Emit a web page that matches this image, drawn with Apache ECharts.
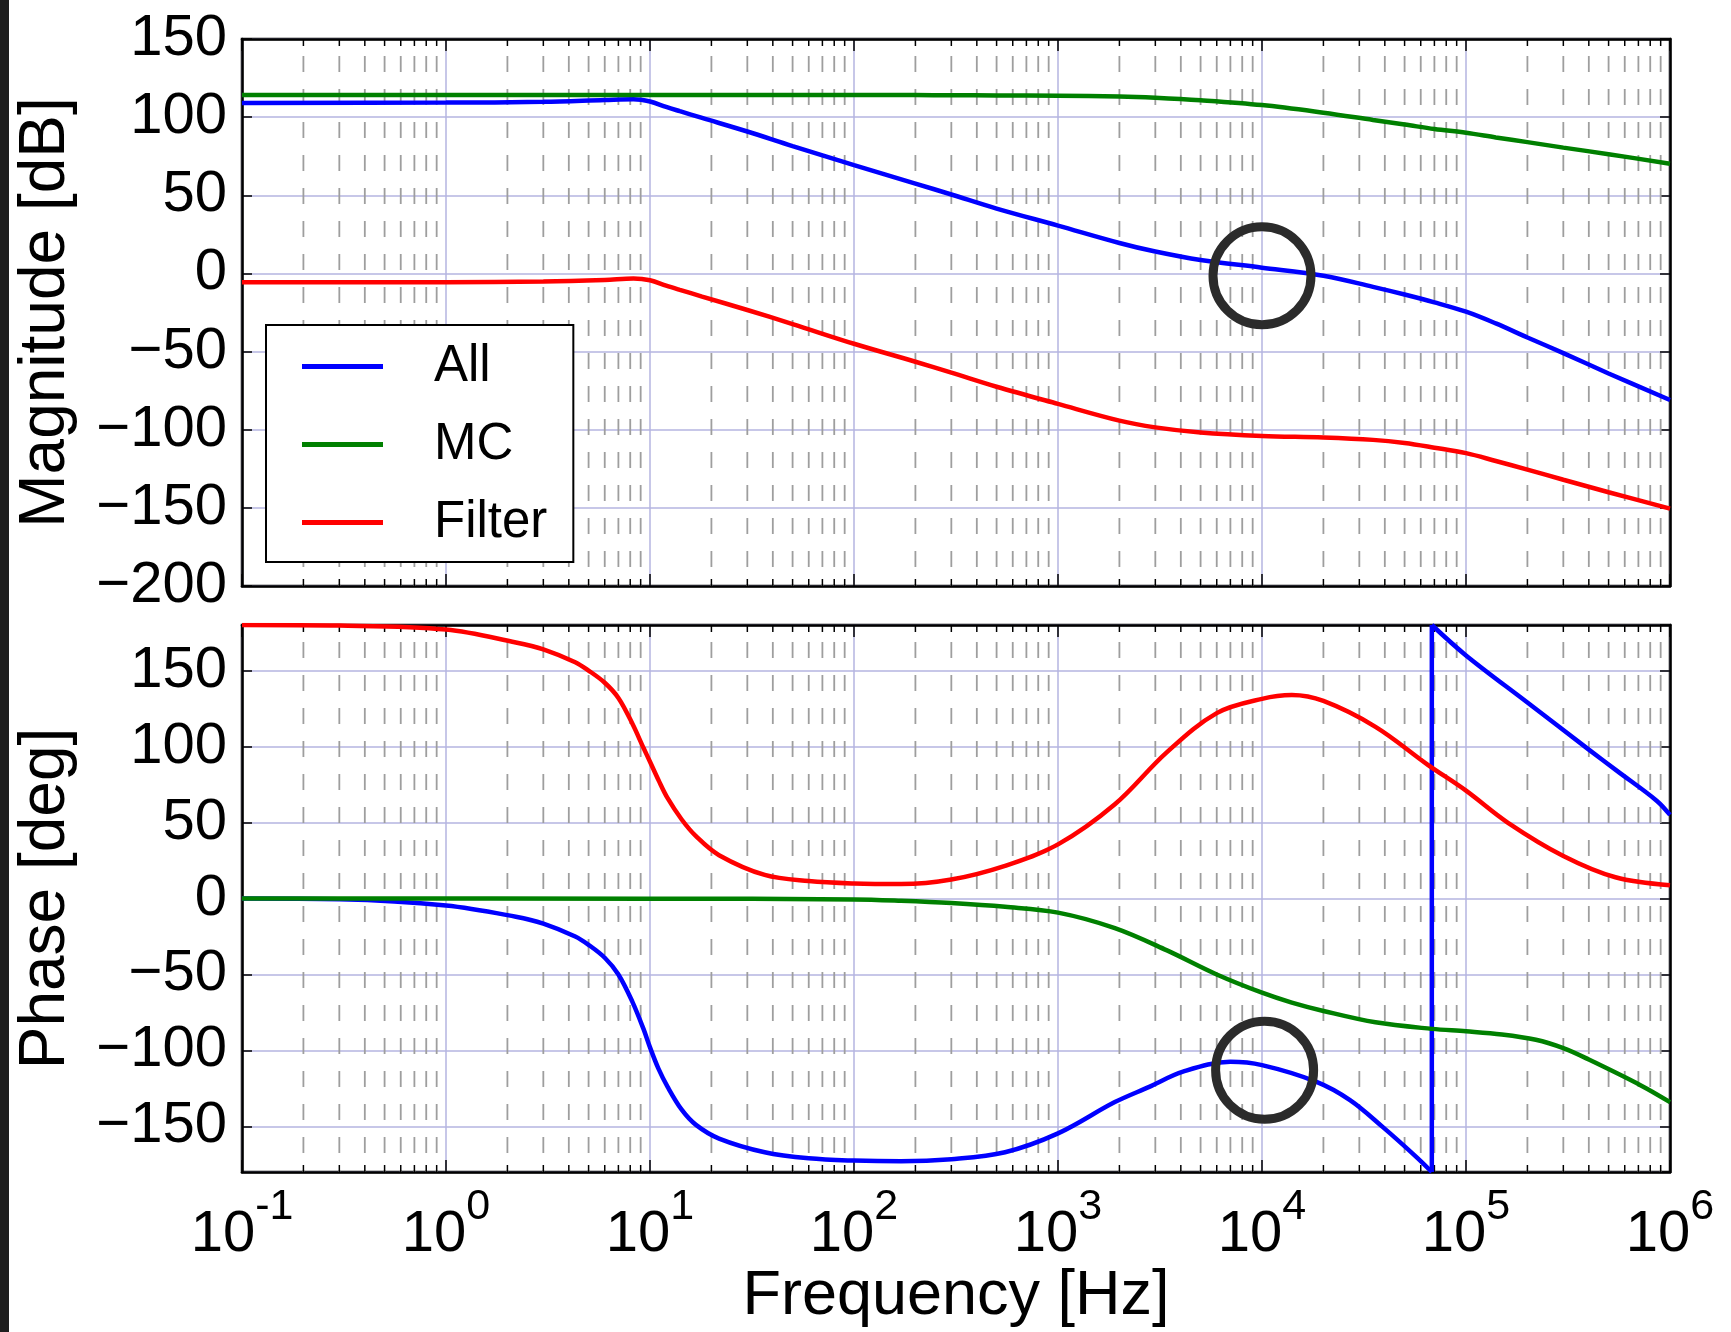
<!DOCTYPE html>
<html>
<head>
<meta charset="utf-8">
<script src="https://cdn.jsdelivr.net/npm/echarts@6/dist/echarts.min.js"></script>
<style>
  html, body { margin: 0; padding: 0; background: #fff; }
  #chart { width: 1731px; height: 1332px; }
</style>
</head>
<body>
<div id="chart"></div>
<script>
// magnitude (dB)
var magFreq   = [0.1, 1, 3, 6, 8.3, 10, 12, 14, 18, 30, 50, 100, 200, 300, 500, 1e3, 2e3, 3e3, 5e3, 1e4, 2e4, 3.5e4, 5e4, 7e4, 1e5, 1.4e5, 2e5, 3e5, 5e5, 1e6];
var magAll    = [109.0, 109.3, 109.8, 111.0, 111.5, 110.0, 106.5, 103.8, 99.5, 90.8, 81.5, 69.3, 57.5, 50.5, 41.5, 30.6, 19.5, 14.0, 8.6, 3.7, -1.5, -8.6, -13.5, -18.5, -24.5, -32.0, -41.0, -51.0, -64.0, -81.0];
var magMC     = [114.2, 114.2, 114.2, 114.2, 114.2, 114.2, 114.2, 114.2, 114.2, 114.2, 114.2, 114.2, 114.1, 114.0, 113.9, 113.7, 113.2, 112.4, 110.8, 107.7, 102.8, 98.2, 95.3, 92.4, 90.0, 87.0, 84.0, 80.5, 76.3, 70.2];
var magFilter = [-5.7, -5.6, -5.2, -4.2, -3.3, -4.4, -7.8, -10.5, -14.8, -23.4, -32.4, -45.0, -56.5, -63.5, -72.5, -83.5, -94.2, -98.5, -101.8, -104.0, -105.0, -106.5, -108.5, -111.5, -115.0, -120.0, -125.5, -132.0, -140.0, -150.5];

// phase (deg)
var phaseFilterFreq = [0.1, 0.3, 1, 2.2, 3, 4.3, 5, 6, 7, 8.2, 9.3, 10, 11, 12.2, 14.3, 16.8, 21.8, 36.5, 60, 100, 170, 300, 550, 1e3, 1.9e3, 3.4e3, 6e3, 1e4, 1.4e4, 2e4, 3.6e4, 6.5e4, 1e5, 1.6e5, 3e5, 5.4e5, 1e6];
var phaseFilter     = [180, 179.6, 177, 168.5, 164, 155.5, 150, 142, 132, 115, 99, 90, 78, 66, 52, 41, 28.5, 15.5, 11.5, 9.9, 9.5, 12.5, 21.5, 35.6, 62, 96, 122, 131.4, 133.9, 130, 113, 88, 71, 50, 28, 14, 8.7];
var phaseMCFreq = [0.1, 10, 100, 170, 300, 550, 1e3, 1.9e3, 3.4e3, 6e3, 1e4, 1.4e4, 2e4, 3.6e4, 6.8e4, 1e5, 1.5e5, 2.2e5, 3e5, 4e5, 7.2e5, 1e6];
var phaseMC     = [0, -0.1, -0.6, -1.5, -3, -5.5, -9.3, -19.5, -34, -50, -62, -68.5, -74, -81.5, -85.8, -87.4, -89.5, -93, -98.5, -106, -123, -134];
// "All" phase: before the wrap, the wrap itself, after the wrap
var phaseAllFreqA = [0.1, 0.3, 1, 2.2, 3, 4.3, 5, 6, 7, 8.2, 9.3, 10, 11, 12.2, 14.3, 16.8, 21.8, 36.5, 60, 100, 170, 300, 550, 1e3, 1.9e3, 2.8e3, 4.1e3, 7e3, 1e4, 1.85e4, 2.7e4, 3.9e4, 5.7e4, 6.8e4];
var phaseAllA     = [0, -0.5, -4.6, -12, -16.5, -25, -30.5, -39, -50, -68, -86, -98, -112, -124, -139, -149, -158, -167, -171, -172.5, -173, -171.6, -167, -154.6, -134, -124, -114, -107.5, -109.7, -120.7, -132.7, -150.3, -170, -180];
var phaseWrapFreq = [6.8e4, 6.8e4];
var phaseWrap     = [-180, 180];
var phaseAllFreqC = [6.8e4, 1e5, 2e5, 4e5, 5.5e5, 8.6e5, 1e6];
var phaseAllC     = [180, 160, 129, 98, 84, 64.4, 55];

// annotation circles
var circleMag = [[1e4, -1.5]];
var circlePhase = [[1.03e4, -113]];

// minor tick positions
var decades = [0.1, 1, 10, 100, 1e3, 1e4, 1e5];
var minorSteps = [2, 3, 4, 5, 6, 7, 8, 9];
var minorFreqs = [];
decades.forEach(function (d) {
  minorSteps.forEach(function (m) { minorFreqs.push([d * m, 0]); });
});

var FONT = "'Liberation Sans', Arial, Helvetica, sans-serif";
var gridColor = '#b4b4e0';
var BLUE = '#0000ff', GREEN = '#008000', RED = '#ff0000';

function pairs(xs, ys) {
  var out = [];
  for (var i = 0; i < xs.length; i++) out.push([xs[i], ys[i]]);
  return out;
}

function xAxisFor(grid, pos, labels, split) {
  return {
    type: 'log', logBase: 10, gridIndex: grid, position: pos,
    min: 0.1, max: 1e6,
    axisLine: { show: true, onZero: false, lineStyle: { color: '#000', width: 2.5 } },
    axisTick: { show: true, inside: true, length: 12, lineStyle: { color: '#000', width: 1.5 } },
    axisLabel: labels ? {
      margin: 34,
      formatter: function (v) {
        var e = Math.round(Math.log10(v));
        return '{b|10}{s|' + e + '}';
      },
      rich: {
        b: { fontSize: 58, fontFamily: FONT, color: '#000', lineHeight: 58, verticalAlign: 'bottom' },
        s: { fontSize: 43, fontFamily: FONT, color: '#000', lineHeight: 43, verticalAlign: 'bottom', padding: [0, 0, 35, 0] }
      }
    } : { show: false },
    splitLine: { show: split, lineStyle: { color: gridColor, width: 1.5 } },
    name: (labels ? 'Frequency [Hz]' : ''),
    nameLocation: 'middle', nameGap: 92,
    nameTextStyle: { fontSize: 63, fontFamily: FONT, color: '#000' }
  };
}

function yAxisFor(grid, pos, main, name, range) {
  var ax = {
    type: 'value', gridIndex: grid, position: pos,
    min: range.min, max: range.max,
    axisLine: { show: true, onZero: false, lineStyle: { color: '#000', width: 2.5 } },
    axisTick: { show: true, inside: true, length: 10, lineStyle: { color: '#000', width: 1.5 } },
    axisLabel: main ? {
      fontSize: 58, fontFamily: FONT, color: '#000', margin: 15,
      showMinLabel: range.edgeLabels, showMaxLabel: range.edgeLabels,
      formatter: function (v) { return String(v).replace('-', '\u2212'); }
    } : { show: false },
    splitLine: { show: main, lineStyle: { color: gridColor, width: 1.5 } }
  };
  if (range.interval) ax.interval = range.interval; else ax.splitNumber = range.splitNumber;
  if (main) {
    ax.name = name;
    ax.nameLocation = 'middle';
    ax.nameGap = 164;
    ax.nameTextStyle = { fontSize: 64, fontFamily: FONT, color: '#000' };
  }
  return ax;
}

var magRange = { min: -200, max: 150, interval: 50, edgeLabels: true };
var phaseRange = { min: -180, max: 180, splitNumber: 7, edgeLabels: false };

function minorSeries(xi, yi) {
  return {
    type: 'custom', xAxisIndex: xi, yAxisIndex: yi, z: 1, silent: true,
    data: minorFreqs, encode: { x: 0, y: 1 },
    renderItem: function (params, api) {
      var x = api.coord([api.value(0), 0])[0];
      var cs = params.coordSys;
      var top = cs.y, bot = cs.y + cs.height;
      return {
        type: 'group',
        children: [
          { type: 'line', shape: { x1: x, y1: top, x2: x, y2: bot },
            style: { stroke: '#9e9e9e', lineWidth: 1.8, lineDash: [16, 17], lineDashOffset: 16 } },
          { type: 'line', shape: { x1: x, y1: top, x2: x, y2: top + 7 },
            style: { stroke: '#000', lineWidth: 1.5 } },
          { type: 'line', shape: { x1: x, y1: bot - 7, x2: x, y2: bot },
            style: { stroke: '#000', lineWidth: 1.5 } }
        ]
      };
    }
  };
}

function curve(name, color, xi, yi, data, smooth) {
  return {
    name: name, type: 'line', xAxisIndex: xi, yAxisIndex: yi, z: 3,
    data: data, showSymbol: false, symbol: 'none',
    smooth: smooth ? 0.35 : false,
    color: color,
    lineStyle: { color: color, width: 4.5 }
  };
}

function circle(xi, yi, data) {
  return {
    type: 'scatter', xAxisIndex: xi, yAxisIndex: yi, z: 5, silent: true,
    data: data, symbol: 'circle', symbolSize: 98,
    itemStyle: { color: 'rgba(0,0,0,0)', borderColor: '#2b2b2b', borderWidth: 9, opacity: 1 }
  };
}

var chart = echarts.init(document.getElementById('chart'));
chart.setOption({
  animation: false,
  backgroundColor: '#fff',
  graphic: [{
    type: 'rect', left: 0, top: 0, z: 10,
    shape: { width: 9, height: 1332 },
    style: { fill: '#1e1e1e' }
  }],
  grid: [
    { left: 242, top: 39, width: 1428, height: 547, show: true, backgroundColor: '#fff', borderColor: '#000', borderWidth: 2.5 },
    { left: 242, top: 625, width: 1428, height: 547, show: true, backgroundColor: '#fff', borderColor: '#000', borderWidth: 2.5 }
  ],
  legend: {
    data: ['All', 'MC', 'Filter'],
    orient: 'vertical', left: 266, top: 325,
    padding: [16, 26, 14, 36],
    itemWidth: 81, itemHeight: 5, itemGap: 27,
    icon: 'rect',
    backgroundColor: '#fff', borderColor: '#000', borderWidth: 2, borderRadius: 0,
    selectedMode: false,
    textStyle: { fontSize: 51, fontFamily: FONT, color: '#000', lineHeight: 50, padding: [0, 0, 0, 46] }
  },
  xAxis: [
    xAxisFor(0, 'bottom', false, true),
    xAxisFor(0, 'top', false, false),
    xAxisFor(1, 'bottom', true, true),
    xAxisFor(1, 'top', false, false)
  ],
  yAxis: [
    yAxisFor(0, 'left', true, 'Magnitude [dB]', magRange),
    yAxisFor(0, 'right', false, '', magRange),
    yAxisFor(1, 'left', true, 'Phase [deg]', phaseRange),
    yAxisFor(1, 'right', false, '', phaseRange)
  ],
  series: [
    minorSeries(0, 0),
    minorSeries(2, 2),
    curve('All', BLUE, 0, 0, pairs(magFreq, magAll), true),
    curve('MC', GREEN, 0, 0, pairs(magFreq, magMC), true),
    curve('Filter', RED, 0, 0, pairs(magFreq, magFilter), true),
    curve('All', BLUE, 2, 2, pairs(phaseAllFreqA, phaseAllA), true),
    curve('All', BLUE, 2, 2, pairs(phaseWrapFreq, phaseWrap), false),
    curve('All', BLUE, 2, 2, pairs(phaseAllFreqC, phaseAllC), true),
    curve('MC', GREEN, 2, 2, pairs(phaseMCFreq, phaseMC), true),
    curve('Filter', RED, 2, 2, pairs(phaseFilterFreq, phaseFilter), true),
    circle(0, 0, circleMag),
    circle(2, 2, circlePhase)
  ]
});
</script>
</body>
</html>
